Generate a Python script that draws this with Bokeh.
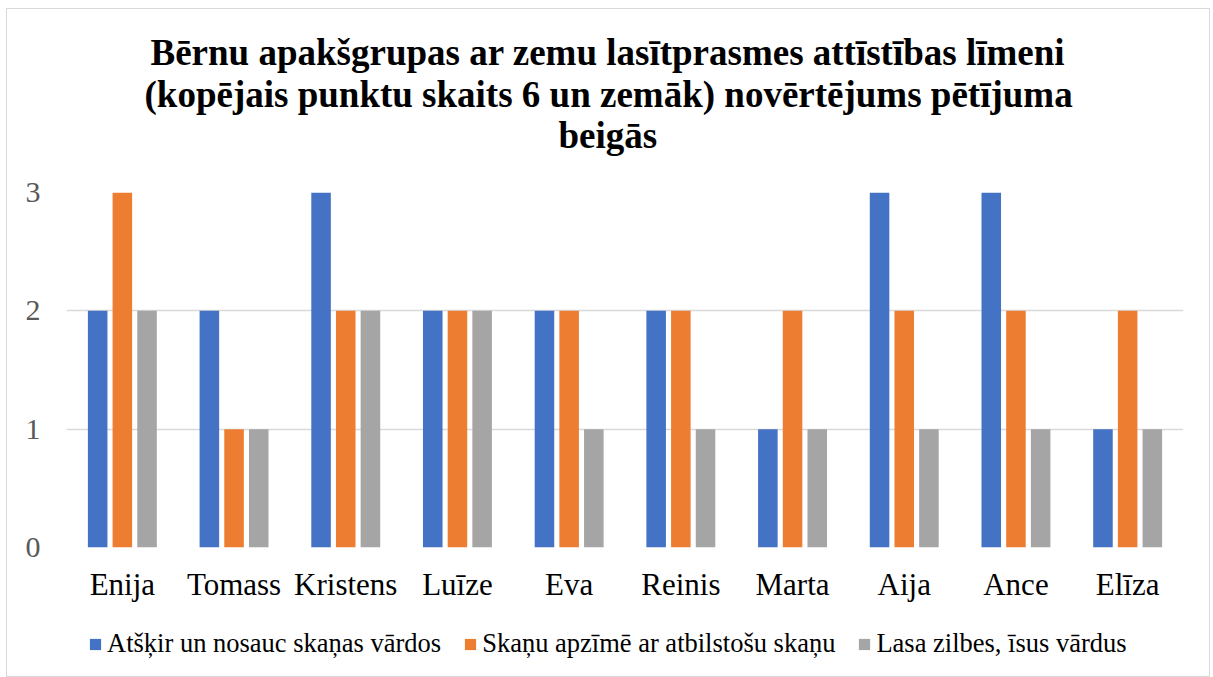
from bokeh.plotting import figure
from bokeh.models import FactorRange, Range1d, ColumnDataSource, Legend, LegendItem, FixedTicker, Title
from bokeh.layouts import column
from bokeh.transform import dodge
from bokeh.embed import file_html
from bokeh.resources import INLINE

names = ["Enija", "Tomass", "Kristens", "Luīze", "Eva", "Reinis", "Marta", "Aija", "Ance", "Elīza"]
series_names = ["Atšķir un nosauc skaņas vārdos", "Skaņu apzīmē ar atbilstošu skaņu", "Lasa zilbes, īsus vārdus"]
s1 = [2, 2, 3, 2, 2, 2, 1, 3, 3, 1]
s2 = [3, 1, 2, 2, 2, 2, 2, 2, 2, 2]
s3 = [2, 1, 2, 2, 1, 1, 1, 1, 1, 1]
colors = ["#4472C4", "#ED7D31", "#A5A5A5"]
y_ticks = [0, 1, 2, 3]
title_lines = ["Bērnu apakšgrupas ar zemu lasītprasmes attīstības līmeni",
               "(kopējais punktu skaits 6 un zemāk) novērtējums pētījuma",
               "beigās"]

src = ColumnDataSource(dict(cat=names, s1=s1, s2=s2, s3=s3))
keys = ["s1", "s2", "s3"]
offsets = [-0.221, 0.0, 0.221]

p = figure(frame_width=1117, frame_height=355, x_range=FactorRange(*names), y_range=Range1d(0, 3),
           output_backend="svg", toolbar_location=None,
           min_border_left=59, min_border_right=26, min_border_top=183, min_border_bottom=70)
p.outline_line_color = None

def mk_title(t, standoff, offset, size="37px"):
    return Title(text=t, align="left", text_font="Liberation Serif",
                 text_font_size=size, text_font_style="bold", text_color="#000000",
                 standoff=standoff, offset=offset)

p.title = mk_title(title_lines[0], 0, 84)
p.add_layout(mk_title(" ", 35, 0, size="1px"), "above")
p.add_layout(mk_title(title_lines[2], -2, 492), "above")
p.add_layout(mk_title(title_lines[1], -2, 78), "above")

for key, off, col in zip(keys, offsets, colors):
    p.vbar(x=dodge("cat", off, range=p.x_range), top=key, width=0.175, source=src,
           fill_color=col, line_color=None)

p.xgrid.grid_line_color = None
p.ygrid.grid_line_color = "#D9D9D9"
p.ygrid.grid_line_width = 1.5
p.yaxis.ticker = FixedTicker(ticks=y_ticks)
for ax in (p.xaxis[0], p.yaxis[0]):
    ax.axis_line_color = None
    ax.major_tick_line_color = None
    ax.minor_tick_line_color = None
    ax.major_tick_out = 0
    ax.major_tick_in = 0
    ax.major_label_text_font = "Liberation Serif"
p.yaxis.major_label_text_font_size = "30px"
p.yaxis.major_label_text_color = "#595959"
p.yaxis.major_label_standoff = 26
p.xaxis.major_label_text_font_size = "31px"
p.xaxis.major_label_text_color = "#000000"
p.xaxis.major_label_standoff = 19

# legend strip below the chart (its swatch renderers sit outside the strip's visible range)
p2 = figure(width=1202, height=59, x_range=FactorRange(*names), y_range=Range1d(10, 11),
            output_backend="svg", toolbar_location=None,
            x_axis_location=None, y_axis_location=None,
            min_border=0, min_border_left=0, min_border_right=0, min_border_top=0, min_border_bottom=0)
p2.outline_line_color = None
p2.xgrid.visible = False
p2.ygrid.visible = False
leg_renderers = [p2.vbar(x=dodge("cat", off, range=p2.x_range), top=key, width=0.175, source=src,
                         fill_color=c, line_color=None)
                 for key, off, c in zip(keys, offsets, colors)]

legend = Legend(items=[LegendItem(label=n, renderers=[r]) for n, r in zip(series_names, leg_renderers)],
                orientation="horizontal", location=(22, 17),
                label_text_font="Liberation Serif", label_text_font_size="26.5px",
                label_text_color="#000000", glyph_width=14, glyph_height=14,
                label_standoff=5, spacing=22, padding=0, margin=0,
                border_line_color=None, background_fill_alpha=0)
p2.add_layout(legend, "center")

layout = column(p, p2, spacing=0,
                styles={"border": "1px solid #D9D9D9", "margin-left": "6px", "margin-top": "8px"})

open("out.html", "w").write(file_html(layout, INLINE))
